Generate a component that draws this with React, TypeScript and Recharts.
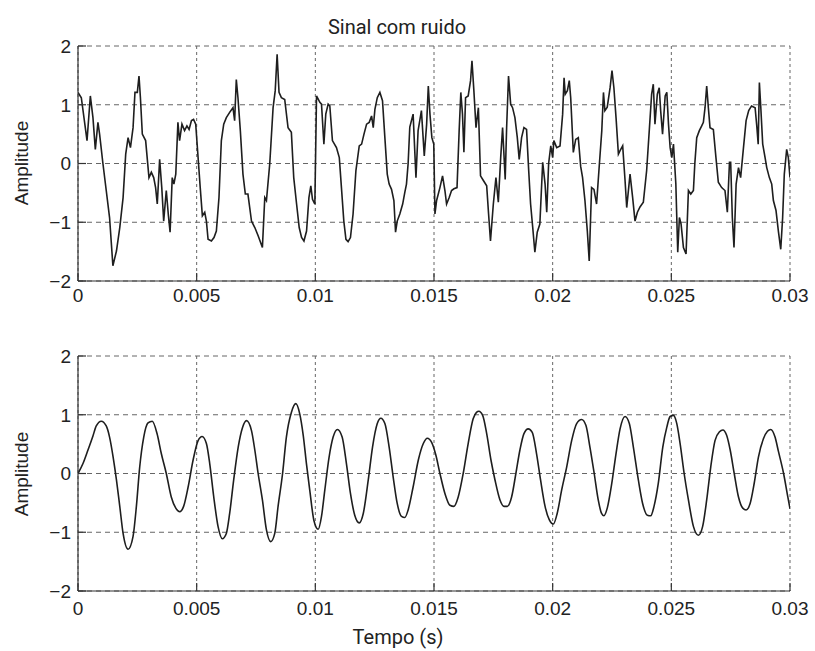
import React from 'react';
import { LineChart, Line, XAxis, YAxis, CartesianGrid } from 'recharts';

// time in ms, amplitude
const noisyTime = [
  0, 0.14, 0.38, 0.52, 0.63, 0.73, 0.84, 0.91, 1.05, 1.19, 1.33, 1.47, 1.62, 1.76, 1.9, 2.01, 2.11, 2.21, 2.32, 2.4,
  2.5, 2.57, 2.63, 2.71, 2.85, 2.99, 3.09, 3.19, 3.27, 3.34, 3.44, 3.53, 3.61, 3.72, 3.81, 3.88, 3.97, 4.04, 4.12, 4.21,
  4.28, 4.38, 4.49, 4.59, 4.68, 4.78, 4.87, 4.96, 5.06, 5.15, 5.24, 5.34, 5.41, 5.48, 5.62, 5.73, 5.83, 5.94, 6.04, 6.14,
  6.25, 6.39, 6.53, 6.6, 6.67, 6.74, 6.84, 6.95, 7.05, 7.16, 7.31, 7.45, 7.59, 7.77, 7.87, 7.94, 8.08, 8.22, 8.31, 8.39,
  8.47, 8.57, 8.71, 8.85, 8.99, 9.09, 9.21, 9.32, 9.42, 9.52, 9.63, 9.73, 9.81, 9.88, 9.98, 10.05, 10.19, 10.26, 10.36, 10.44,
  10.54, 10.61, 10.72, 10.89, 11.01, 11.1, 11.2, 11.29, 11.38, 11.48, 11.59, 11.71, 11.85, 11.95, 12.05, 12.16, 12.27, 12.37, 12.44, 12.51,
  12.61, 12.72, 12.83, 12.93, 13.03, 13.11, 13.21, 13.31, 13.38, 13.45, 13.56, 13.68, 13.77, 13.84, 13.91, 13.98, 14.12, 14.24, 14.33, 14.47,
  14.59, 14.69, 14.76, 14.83, 14.91, 14.99, 15.04, 15.11, 15.25, 15.36, 15.46, 15.53, 15.64, 15.74, 15.84, 15.97, 16.06, 16.13, 16.2, 16.26,
  16.33, 16.44, 16.54, 16.6, 16.68, 16.77, 16.87, 16.96, 17.08, 17.22, 17.3, 17.38, 17.5, 17.61, 17.71, 17.81, 17.89, 18.0, 18.06, 18.14,
  18.23, 18.31, 18.41, 18.51, 18.59, 18.69, 18.79, 18.9, 18.99, 19.07, 19.16, 19.25, 19.35, 19.46, 19.58, 19.68, 19.75, 19.83, 19.92, 20.0,
  20.05, 20.17, 20.31, 20.42, 20.48, 20.53, 20.62, 20.7, 20.76, 20.87, 20.97, 21.08, 21.18, 21.26, 21.36, 21.46, 21.54, 21.64, 21.74, 21.85,
  21.97, 22.07, 22.14, 22.2, 22.3, 22.42, 22.5, 22.58, 22.67, 22.77, 22.84, 22.95, 23.05, 23.12, 23.26, 23.37, 23.47, 23.57, 23.68, 23.82,
  23.96, 24.07, 24.17, 24.24, 24.31, 24.41, 24.49, 24.55, 24.63, 24.74, 24.81, 24.88, 24.95, 25.02, 25.09, 25.19, 25.27, 25.34, 25.41, 25.51,
  25.62, 25.72, 25.82, 25.93, 25.99, 26.07, 26.18, 26.28, 26.35, 26.42, 26.49, 26.56, 26.63, 26.77, 26.88, 26.98, 27.12, 27.26, 27.36, 27.45,
  27.5, 27.57, 27.64, 27.73, 27.83, 27.92, 28.04, 28.15, 28.26, 28.38, 28.53, 28.6, 28.66, 28.71, 28.77, 28.85, 28.95, 29.02, 29.13, 29.23,
  29.3, 29.41, 29.51, 29.61, 29.69, 29.76, 29.86, 29.93, 30.0,
];
const noisyAmp = [
  1.21, 1.12, 0.39, 1.15, 0.78, 0.24, 0.7, 0.5, 0.0, -0.46, -0.92, -1.74, -1.49, -1.09, -0.58, 0.16, 0.44, 0.27, 0.61, 1.21,
  1.21, 1.49, 1.12, 0.5, 0.39, -0.24, -0.15, -0.24, -0.41, -0.69, 0.07, -0.41, -0.98, -0.46, -0.89, -1.17, -0.24, -0.35, -0.18, 0.7,
  0.39, 0.67, 0.56, 0.64, 0.58, 0.73, 0.75, 0.67, 0.1, -0.41, -0.89, -0.83, -0.98, -1.29, -1.32, -1.26, -1.15, -0.58, 0.39, 0.67,
  0.78, 0.87, 0.95, 0.73, 1.43, 1.12, 0.56, -0.18, -0.52, -0.52, -0.98, -1.09, -1.23, -1.43, -0.58, -0.63, 0.0, 0.95, 1.24, 1.86,
  1.21, 1.12, 1.09, 0.61, 0.53, -0.24, -0.69, -1.09, -1.26, -1.32, -1.15, -0.58, -0.38, -0.61, -0.69, 1.15, 1.04, 1.01, 0.33, 0.84,
  1.01, 0.98, 0.39, 0.27, 0.1, -0.41, -0.98, -1.29, -1.33, -1.26, -0.86, -0.12, 0.3, 0.33, 0.5, 0.67, 0.7, 0.81, 0.61, 0.92,
  1.12, 1.21, 1.07, 0.44, -0.18, -0.35, -0.44, -0.63, -1.17, -0.98, -0.86, -0.69, -0.49, -0.35, 0.0, 0.62, 0.84, -0.24, 0.56, 0.9,
  0.13, 0.67, 1.32, 0.84, 0.44, 0.33, -0.86, -0.63, -0.41, -0.21, -0.46, -0.69, -0.58, -0.46, -0.43, -0.41, 0.56, 1.21, 0.84, 0.19,
  1.12, 1.15, 1.41, 1.75, 1.24, 0.61, 0.95, -0.21, -0.29, -0.38, -0.86, -1.32, -0.69, -0.24, -0.66, 0.1, 0.61, -0.27, 0.61, 1.49,
  1.01, 0.95, 0.78, 0.44, 0.07, 0.44, 0.61, 0.58, -0.12, -0.69, -1.09, -1.51, -1.17, -1.03, 0.02, -0.35, -0.83, 0.0, 0.3, 0.1,
  0.39, 0.27, 0.3, 0.84, 1.46, 1.18, 1.24, 1.41, 1.12, 0.19, 0.41, 0.44, -0.05, -0.24, -0.63, -1.15, -1.66, -0.41, -0.44, -0.69,
  0.0, 0.56, 1.21, 0.9, 0.96, 1.29, 1.58, 1.29, 0.78, 0.16, 0.22, 0.3, -0.29, -0.75, -0.18, -0.58, -0.98, -0.83, -0.74, -0.66,
  -0.12, 0.56, 1.18, 1.35, 0.67, 1.18, 1.29, 0.9, 0.5, 1.15, 1.21, 0.67, 0.27, 0.1, 0.33, -0.35, -1.51, -0.92, -1.03, -1.43,
  -1.54, -0.46, -0.52, -0.46, 0.0, 0.44, 0.56, 0.64, 0.7, 0.95, 1.32, 0.95, 0.61, 0.58, 0.1, -0.32, -0.41, -0.46, -0.83, 0.02,
  0.02, -0.92, -1.43, -0.35, -0.07, -0.24, 0.27, 0.73, 0.9, 0.98, 0.95, 0.64, 0.33, 1.38, 0.95, 0.33, 0.1, -0.07, -0.24, -0.35,
  -0.63, -0.8, -1.15, -1.46, -0.92, -0.18, 0.24, 0.1, -0.24,
];

const cleanTime = [
  0, 0.21, 0.42, 0.63, 0.77, 0.98, 1.19, 1.33, 1.48, 1.62, 1.76, 1.9, 2.11, 2.32, 2.46, 2.6, 2.77, 2.95, 3.13, 3.33,
  3.51, 3.72, 3.93, 4.12, 4.29, 4.45, 4.64, 4.85, 5.06, 5.23, 5.41, 5.55, 5.72, 5.9, 6.08, 6.25, 6.39, 6.56, 6.75, 6.93,
  7.1, 7.31, 7.45, 7.59, 7.77, 7.94, 8.12, 8.29, 8.43, 8.62, 8.78, 8.99, 9.18, 9.34, 9.49, 9.63, 9.77, 9.94, 10.12, 10.26,
  10.4, 10.58, 10.75, 10.93, 11.13, 11.31, 11.48, 11.66, 11.85, 12.02, 12.23, 12.41, 12.61, 12.76, 12.93, 13.11, 13.28, 13.45, 13.63, 13.77,
  13.91, 14.12, 14.34, 14.55, 14.72, 14.9, 15.08, 15.25, 15.46, 15.67, 15.84, 16.02, 16.23, 16.44, 16.65, 16.79, 16.89, 17.05, 17.22, 17.4,
  17.57, 17.78, 17.95, 18.09, 18.27, 18.45, 18.62, 18.79, 18.97, 19.14, 19.32, 19.49, 19.68, 19.86, 20.03, 20.19, 20.38, 20.59, 20.8, 21.01,
  21.22, 21.4, 21.57, 21.75, 21.92, 22.06, 22.16, 22.3, 22.49, 22.67, 22.84, 23.05, 23.23, 23.4, 23.61, 23.79, 23.99, 24.13, 24.27, 24.45,
  24.64, 24.81, 24.95, 25.09, 25.23, 25.37, 25.54, 25.72, 25.93, 26.14, 26.32, 26.49, 26.66, 26.84, 27.03, 27.17, 27.33, 27.48, 27.65, 27.83,
  28.01, 28.15, 28.32, 28.49, 28.67, 28.88, 29.05, 29.19, 29.37, 29.51, 29.73, 29.9, 30.0,
];
const cleanAmp = [
  0, 0.17, 0.4, 0.64, 0.81, 0.89, 0.81, 0.62, 0.28, -0.11, -0.56, -1.02, -1.29, -1.07, -0.56, 0.11, 0.62, 0.86, 0.89, 0.68,
  0.34, 0, -0.4, -0.59, -0.65, -0.56, -0.23, 0.23, 0.56, 0.63, 0.51, 0.17, -0.4, -0.9, -1.11, -1.02, -0.68, -0.11, 0.45, 0.78,
  0.9, 0.73, 0.4, 0, -0.45, -0.96, -1.16, -1.02, -0.56, 0, 0.62, 1.04, 1.19, 1.02, 0.65, 0.15, -0.3, -0.8, -0.95, -0.73,
  -0.28, 0.28, 0.62, 0.75, 0.62, 0.17, -0.34, -0.71, -0.84, -0.68, -0.11, 0.45, 0.85, 0.94, 0.85, 0.45, -0.06, -0.51, -0.73, -0.75,
  -0.62, -0.23, 0.23, 0.51, 0.6, 0.53, 0.31, 0, -0.34, -0.54, -0.56, -0.4, 0, 0.51, 0.93, 1.04, 1.06, 0.99, 0.68, 0.23,
  -0.11, -0.45, -0.56, -0.56, -0.4, 0, 0.4, 0.68, 0.76, 0.7, 0.34, -0.11, -0.56, -0.79, -0.86, -0.68, -0.28, 0.11, 0.56, 0.85,
  0.92, 0.82, 0.45, 0, -0.45, -0.68, -0.72, -0.59, -0.17, 0.34, 0.76, 0.97, 0.85, 0.45, -0.11, -0.51, -0.71, -0.72, -0.56, -0.17,
  0.45, 0.79, 0.97, 0.99, 0.85, 0.51, 0, -0.45, -0.9, -1.05, -0.9, -0.45, 0.11, 0.56, 0.71, 0.74, 0.65, 0.4, 0, -0.4,
  -0.59, -0.62, -0.51, -0.17, 0.28, 0.59, 0.72, 0.75, 0.62, 0.38, 0, -0.38, -0.6,
];

const xTicks = [0, 0.005, 0.01, 0.015, 0.02, 0.025, 0.03];
const xTickLabels = ['0', '0.005', '0.01', '0.015', '0.02', '0.025', '0.03'];
const yTicks = [-2, -1, 0, 1, 2];
const yTickLabels = ['\u22122', '\u22121', '0', '1', '2'];

const noisyData = noisyTime.map((t, i) => ({ t: t / 1000, v: noisyAmp[i] }));
const cleanData = cleanTime.map((t, i) => ({ t: t / 1000, v: cleanAmp[i] }));

const TICK_LEN = 8;
const AXIS_COLOR = '#333';
const TICK_FONT = '"Liberation Sans", Arial, sans-serif';
const LABEL_FONT = 'Roboto, "Noto Sans", sans-serif';

const xLabel = (v: number) => xTickLabels[xTicks.findIndex((t) => Math.abs(t - v) < 1e-9)] ?? '';
const yLabel = (v: number) => yTickLabels[yTicks.indexOf(v)] ?? '';

const BottomTick = ({ x, y, payload, labelDy }: any) => (
  <g>
    <line x1={x} y1={y} x2={x} y2={y - TICK_LEN} stroke={AXIS_COLOR} strokeWidth={1.2} />
    <text x={x} y={y + labelDy} textAnchor="middle" fontSize={19} fontFamily={TICK_FONT} fill="#222">
      {xLabel(payload.value)}
    </text>
  </g>
);

const TopTick = ({ x, y }: any) => (
  <line x1={x} y1={y} x2={x} y2={y + TICK_LEN} stroke={AXIS_COLOR} strokeWidth={1.2} />
);

const LeftTick = ({ x, y, payload }: any) => (
  <g>
    <line x1={x} y1={y} x2={x + TICK_LEN} y2={y} stroke={AXIS_COLOR} strokeWidth={1.2} />
    <text x={x - 7} y={y} dy="0.36em" textAnchor="end" fontSize={19} fontFamily={TICK_FONT} fill="#222">
      {yLabel(payload.value)}
    </text>
  </g>
);

const RightTick = ({ x, y }: any) => (
  <line x1={x} y1={y} x2={x - TICK_LEN} y2={y} stroke={AXIS_COLOR} strokeWidth={1.2} />
);

interface PanelProps {
  data: { t: number; v: number }[];
  curve: 'linear' | 'monotone';
  top: number;
  labelDy: number;
}

const SignalPanel: React.FC<PanelProps> = ({ data, curve, top, labelDy }) => (
  <div style={{ position: 'absolute', left: 0, top }}>
    <LineChart width={815} height={321} data={data} margin={{ top: 46, right: 25, bottom: 0, left: 0 }}>
      <CartesianGrid xAxisId="b" yAxisId="l" vertical={false} stroke="#666" strokeDasharray="5 4" />
      <CartesianGrid xAxisId="b" yAxisId="l" horizontal={false} stroke="#666" strokeDasharray="3 3" />
      <XAxis
        xAxisId="b"
        dataKey="t"
        type="number"
        domain={[0, 0.03]}
        ticks={xTicks}
        interval={0}
        height={40}
        tickSize={0}
        tickMargin={0}
        tickLine={false}
        axisLine={{ stroke: AXIS_COLOR, strokeWidth: 1.2 }}
        tick={(p: any) => <BottomTick {...p} labelDy={labelDy} />}
        allowDataOverflow
      />
      <XAxis
        xAxisId="t"
        orientation="top"
        dataKey="t"
        type="number"
        domain={[0, 0.03]}
        ticks={xTicks}
        interval={0}
        height={0}
        tickSize={0}
        tickMargin={0}
        tickLine={false}
        axisLine={{ stroke: AXIS_COLOR, strokeWidth: 1.2 }}
        tick={(p: any) => <TopTick {...p} />}
        allowDataOverflow
      />
      <YAxis
        yAxisId="l"
        type="number"
        domain={[-2, 2]}
        ticks={yTicks}
        interval={0}
        width={78}
        tickSize={0}
        tickMargin={0}
        tickLine={false}
        axisLine={{ stroke: AXIS_COLOR, strokeWidth: 1.2 }}
        tick={(p: any) => <LeftTick {...p} />}
        allowDataOverflow
      />
      <YAxis
        yAxisId="r"
        orientation="right"
        type="number"
        domain={[-2, 2]}
        ticks={yTicks}
        interval={0}
        width={0}
        tickSize={0}
        tickMargin={0}
        tickLine={false}
        axisLine={{ stroke: AXIS_COLOR, strokeWidth: 1.2 }}
        tick={(p: any) => <RightTick {...p} />}
        allowDataOverflow
      />
      <Line
        xAxisId="b"
        yAxisId="l"
        type={curve}
        dataKey="v"
        stroke="#1e1e1e"
        strokeWidth={1.6}
        dot={false}
        isAnimationActive={false}
      />
    </LineChart>
  </div>
);

const labelStyle: React.CSSProperties = {
  position: 'absolute',
  fontFamily: LABEL_FONT,
  fontSize: 20,
  lineHeight: '20px',
  color: '#222',
  textAlign: 'center',
  whiteSpace: 'nowrap',
};

const ampStyle: React.CSSProperties = {
  position: 'absolute',
  left: 22 - 60,
  width: 120,
  height: 20,
  fontFamily: TICK_FONT,
  fontSize: 19,
  lineHeight: '20px',
  color: '#222',
  textAlign: 'center',
  transform: 'rotate(-90deg)',
};

export default function App() {
  return (
    <div style={{ position: 'absolute', left: 0, top: 0, width: 815, height: 651, background: '#fff', overflow: 'hidden' }}>
      <div style={{ ...labelStyle, left: 297, width: 200, top: 17 }}>Sinal com ruido</div>
      <SignalPanel data={noisyData} curve="linear" top={0} labelDy={21} />
      <SignalPanel data={cleanData} curve="monotone" top={310} labelDy={24} />
      <div style={{ ...ampStyle, top: 163 - 10 }}>Amplitude</div>
      <div style={{ ...ampStyle, top: 474 - 10 }}>Amplitude</div>
      <div style={{ ...labelStyle, left: 298, width: 200, top: 627 }}>Tempo (s)</div>
    </div>
  );
}
